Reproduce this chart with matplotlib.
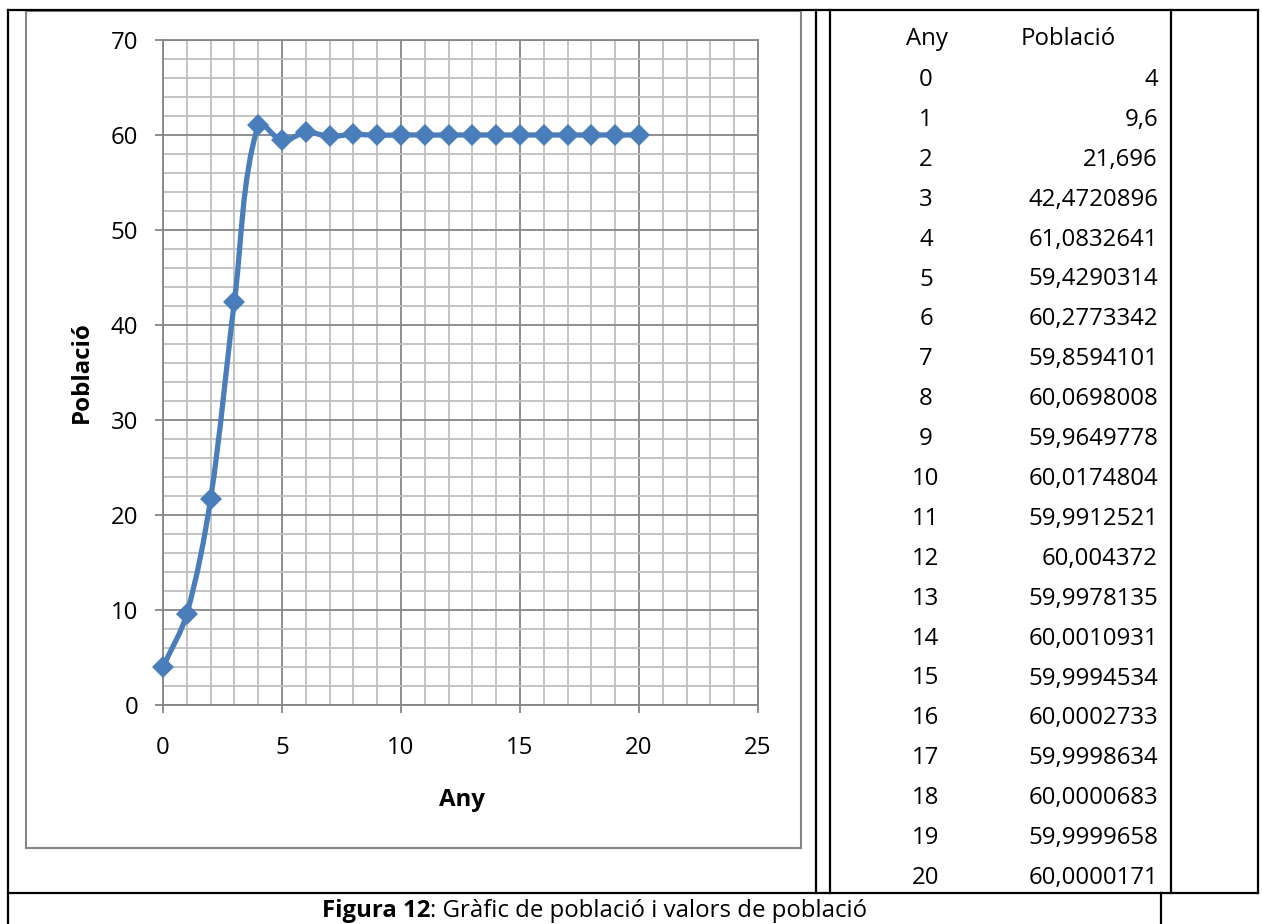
import numpy as np
import matplotlib
matplotlib.use("Agg")
import matplotlib.pyplot as plt
from matplotlib.path import Path
from matplotlib.patches import PathPatch, Rectangle
from matplotlib.lines import Line2D
from matplotlib.ticker import MultipleLocator

plt.rcParams['font.family'] = ['Open Sans', 'DejaVu Sans']

# Dades
anys = list(range(21))
poblacio_txt = ["4", "9,6", "21,696", "42,4720896", "61,0832641", "59,4290314",
                "60,2773342", "59,8594101", "60,0698008", "59,9649778", "60,0174804",
                "59,9912521", "60,004372", "59,9978135", "60,0010931", "59,9994534",
                "60,0002733", "59,9998634", "60,0000683", "59,9999658", "60,0000171"]
poblacio = [float(s.replace(",", ".")) for s in poblacio_txt]

blau = '#4A7EBB'
gris = '#868686'
gris_clar = '#BFBFBF'
fs = 17.3

W, H = 1262, 924
fig = plt.figure(figsize=(W / 100, H / 100), dpi=100)

# capa de fons en coordenades de píxel (vores de la taula i textos)
ov = fig.add_axes([0, 0, 1, 1], zorder=0)
ov.set_xlim(0, W)
ov.set_ylim(H, 0)
ov.axis('off')

def linia(x0, y0, x1, y1, c='black', lw=1.6):
    ov.add_line(Line2D([x0, x1], [y0, y1], color=c, lw=lw, solid_capstyle='projecting'))

linia(8, 10, 1258, 10)
linia(8, 10, 8, H)
linia(816, 10, 816, 893)
linia(830, 10, 830, 893)
linia(1171, 10, 1171, 893)
linia(1258, 10, 1258, 893)
linia(8, 893, 1258, 893)
linia(1161, 893, 1161, H)

# marc del gràfic
ov.add_patch(Rectangle((26, 11), 775, 837, fill=False, ec=gris, lw=1.5))

# taula de valors
ov.text(927, 39, "Any", ha='center', va='center', fontsize=fs)
ov.text(1068, 39, "Població", ha='center', va='center', fontsize=fs)
for i, (a, p) in enumerate(zip(anys, poblacio_txt)):
    y = 80 + i * 39.9
    ov.text(926, y, str(a), ha='center', va='center', fontsize=fs)
    ov.text(1158, y, p, ha='right', va='center', fontsize=fs)

# peu de figura
t1 = ov.text(322, 911, "Figura 12", ha='left', va='center', fontsize=fs, fontweight='bold')
t2 = ov.annotate(": Gràfic de població i valors de població", xy=(1, 0), xycoords=t1,
                 ha='left', va='bottom', fontsize=fs)

# gràfic
ax = fig.add_axes([163 / W, 1 - 705 / H, 595 / W, 665 / H], zorder=1)
ax.set_xlim(0, 25)
ax.set_ylim(0, 70)
ax.xaxis.set_major_locator(MultipleLocator(5))
ax.xaxis.set_minor_locator(MultipleLocator(1))
ax.yaxis.set_major_locator(MultipleLocator(10))
ax.yaxis.set_minor_locator(MultipleLocator(2))
ax.grid(which='minor', color=gris_clar, lw=1.3)
ax.grid(which='major', color=gris, lw=1.3)
ax.set_axisbelow(True)
for s in ax.spines.values():
    s.set_color(gris)
    s.set_linewidth(1.3)
ax.tick_params(which='major', direction='out', length=6, width=1.3, color=gris,
               labelsize=fs)
ax.tick_params(axis='x', pad=16)
ax.tick_params(axis='y', pad=12)
ax.tick_params(which='minor', length=0)

# línia suavitzada: Bézier calculada en coordenades de pantalla (com fa Excel)
pts = ax.transData.transform(np.column_stack([anys, poblacio]))
n = len(pts)
verts = [pts[0]]
codes = [Path.MOVETO]
for i in range(n - 1):
    p0, p1, p2, p3 = pts[max(i - 1, 0)], pts[i], pts[i + 1], pts[min(i + 2, n - 1)]
    seg = np.hypot(*(p2 - p1))
    t1v = p2 - p0
    t2v = p3 - p1
    t1v = t1v / np.hypot(*t1v)
    t2v = t2v / np.hypot(*t2v)
    verts += [p1 + t1v * seg / 3, p2 - t2v * seg / 3, p2]
    codes += [Path.CURVE4] * 3
verts = ax.transData.inverted().transform(np.array(verts))
ax.add_patch(PathPatch(Path(verts, codes), fill=False, ec=blau, lw=3.8, capstyle='round',
                       joinstyle='round', zorder=3))
ax.plot(anys, poblacio, ls='none', marker='D', ms=11, color=blau, mew=0, zorder=4,
        clip_on=False)

ax.set_xlabel("Any", fontsize=fs, fontweight='bold')
ax.set_ylabel("Població", fontsize=fs, fontweight='bold')
ax.xaxis.set_label_coords((462 - 163) / 595, (705 - 800) / 665)
ax.yaxis.set_label_coords((82 - 163) / 595, (705 - 372) / 665)
ax.xaxis.label.set_va('center')
ax.yaxis.label.set_va('center')

fig.savefig("out.png", dpi=100, facecolor='white')
